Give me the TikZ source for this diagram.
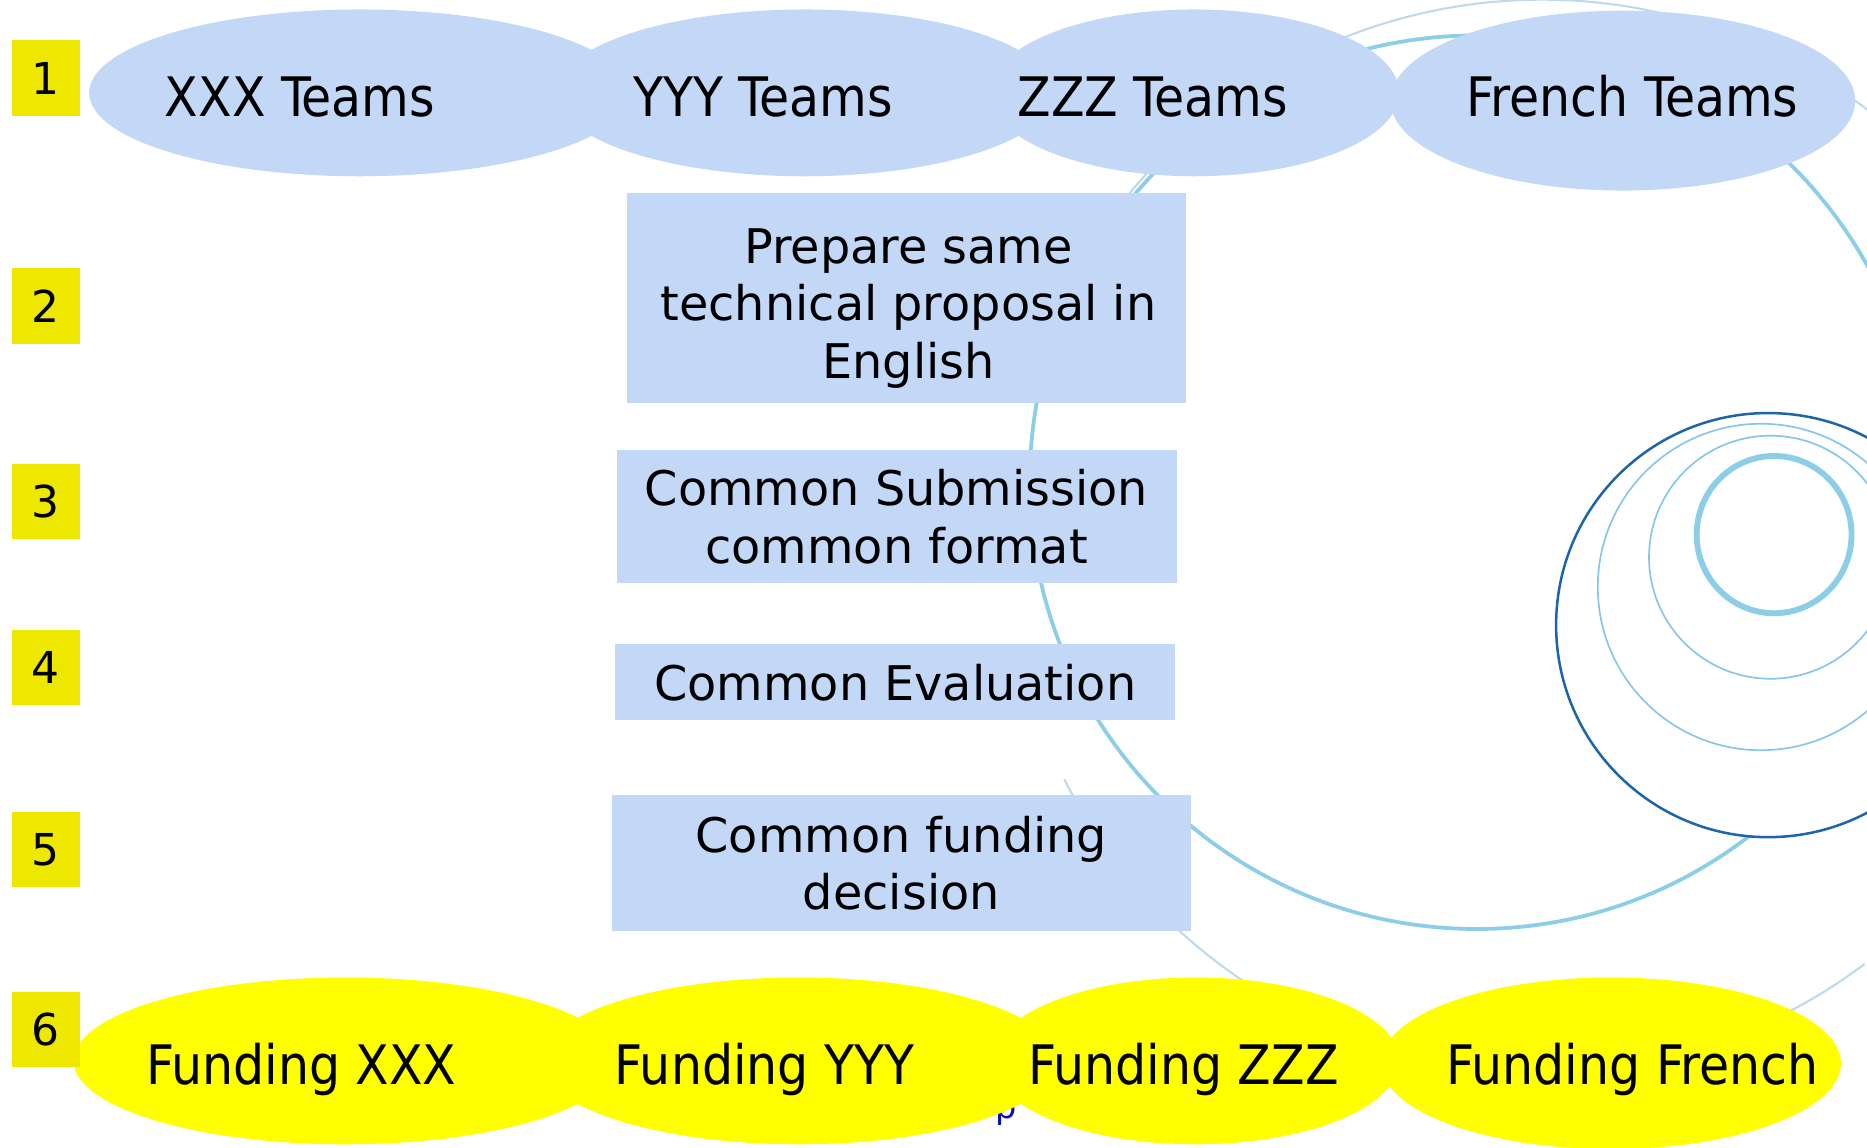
\documentclass[tikz,border=0pt]{standalone}
\usepackage{fontspec}
\setmainfont{DejaVu Sans}
\newfontfamily\condfont{DejaVu Sans Condensed}
\usepackage{xcolor}
\usepackage{tikz}
\usetikzlibrary{shapes.geometric}

\definecolor{boxblue}{RGB}{195,215,247}
\definecolor{numyellow}{RGB}{238,232,0}
\definecolor{ringblue}{RGB}{140,205,232}
\definecolor{ringlight}{RGB}{135,198,235}
\definecolor{ringdark}{RGB}{30,100,170}
\definecolor{ringfaint}{RGB}{190,218,232}
\definecolor{linkblue}{RGB}{10,10,190}
\definecolor{fundyellow}{RGB}{255,255,0}

\begin{document}
\begin{tikzpicture}[x=0.01cm, y=-0.01cm,
        team/.style={ellipse, fill=boxblue, inner sep=0pt},
        fund/.style={ellipse, fill=fundyellow, inner sep=0pt},
        lbl/.style={anchor=base, inner sep=0pt, font=\condfont\fontsize{13}{15}\selectfont},
        stepbox/.style={fill=boxblue, inner sep=0pt, align=center,
            font=\fontsize{11.4}{13.7}\selectfont},
        steptxt/.style={inner sep=0pt, align=center, font=\fontsize{11.4}{13.7}\selectfont},
        num/.style={fill=numyellow, inner sep=0pt, minimum width=0.57cm,
            minimum height=0.63cm, font=\fontsize{10.5}{12}\selectfont}]
        \useasboundingbox (0, 0) rectangle (1568, 964);
        \clip (0, 0) rectangle (1568, 964);

        % background rings
        \draw[ringfaint, line width=0.5pt] ([shift={(207:4.5cm)}] 1295, 450)
            arc[start angle=207, end angle=307, radius=4.5cm];
        \draw[ringfaint, line width=0.5pt] ([shift={(40:4.5cm)}] 1295, 450)
            arc[start angle=40, end angle=145, radius=4.5cm];
        \draw[ringblue, line width=0.9pt] (1240, 405) circle (3.75cm);
        \filldraw[color=ringdark, fill=white, line width=0.6pt] (1485, 525) circle (1.78cm);
        \draw[ringlight, line width=0.4pt] (1479, 493) circle (1.37cm);
        \draw[ringlight, line width=0.4pt] (1487, 468) circle (1.02cm);
        \draw[ringblue, line width=1.4pt] (1490, 449) ellipse (0.65cm and 0.66cm);
        \node[linkblue, anchor=base, inner sep=0pt, font=\fontsize{8}{9}\selectfont]
            (link) at (845, 939) {p};

        % teams
        \node[team, minimum width=4.54cm, minimum height=1.40cm] (xxx) at (302, 78) {};
        \node[team, minimum width=4.18cm, minimum height=1.40cm] (yyy) at (676, 78) {};
        \node[team, minimum width=3.44cm, minimum height=1.40cm] (zzz) at (1003, 78) {};
        \node[team, minimum width=3.90cm, minimum height=1.51cm] (fr) at (1363, 84.5) {};
        \node[lbl] (xxxt) at (252, 98) {XXX Teams};
        \node[lbl] (yyyt) at (641, 98) {YYY Teams};
        \node[lbl] (zzzt) at (968, 98) {ZZZ Teams};
        \node[lbl] (frt) at (1371, 98) {French Teams};

        % funding
        \node[fund, minimum width=4.56cm, minimum height=1.40cm] (fxxx) at (290, 891) {};
        \node[fund, minimum width=4.34cm, minimum height=1.40cm] (fyyy) at (671, 891) {};
        \node[fund, minimum width=3.42cm, minimum height=1.40cm] (fzzz) at (1004, 891) {};
        \node[fund, minimum width=3.86cm, minimum height=1.44cm] (ffr) at (1353, 893) {};
        \node[lbl] (fxxxt) at (253, 911) {Funding XXX};
        \node[lbl] (fyyyt) at (642, 911) {Funding YYY};
        \node[lbl] (fzzzt) at (994, 911) {Funding ZZZ};
        \node[lbl] (ffrt) at (1371, 911) {Funding French};

        % steps
        \node[stepbox, minimum width=4.69cm, minimum height=1.76cm] (prep) at (761.5, 250) {};
        \node[steptxt] (prept) at (763, 259)
            {Prepare same\\technical proposal in\\English};
        \node[stepbox, minimum width=4.70cm, minimum height=1.12cm] (subm) at (753, 434)
            {Common Submission\\common format};
        \node[stepbox, minimum width=4.70cm, minimum height=0.64cm] (eval) at (752, 573)
            {Common Evaluation};
        \node[stepbox, minimum width=4.86cm, minimum height=1.14cm] (dec) at (757, 725)
            {Common funding\\decision};

        % step numbers
        \node[num] (n1) at (38.5, 65.5) {1};
        \node[num] (n2) at (38.5, 257) {2};
        \node[num] (n3) at (38.5, 421.5) {3};
        \node[num] (n4) at (38.5, 561) {4};
        \node[num] (n5) at (38.5, 713.5) {5};
        \node[num] (n6) at (38.5, 864.5) {6};
    \end{tikzpicture}
\end{document}
